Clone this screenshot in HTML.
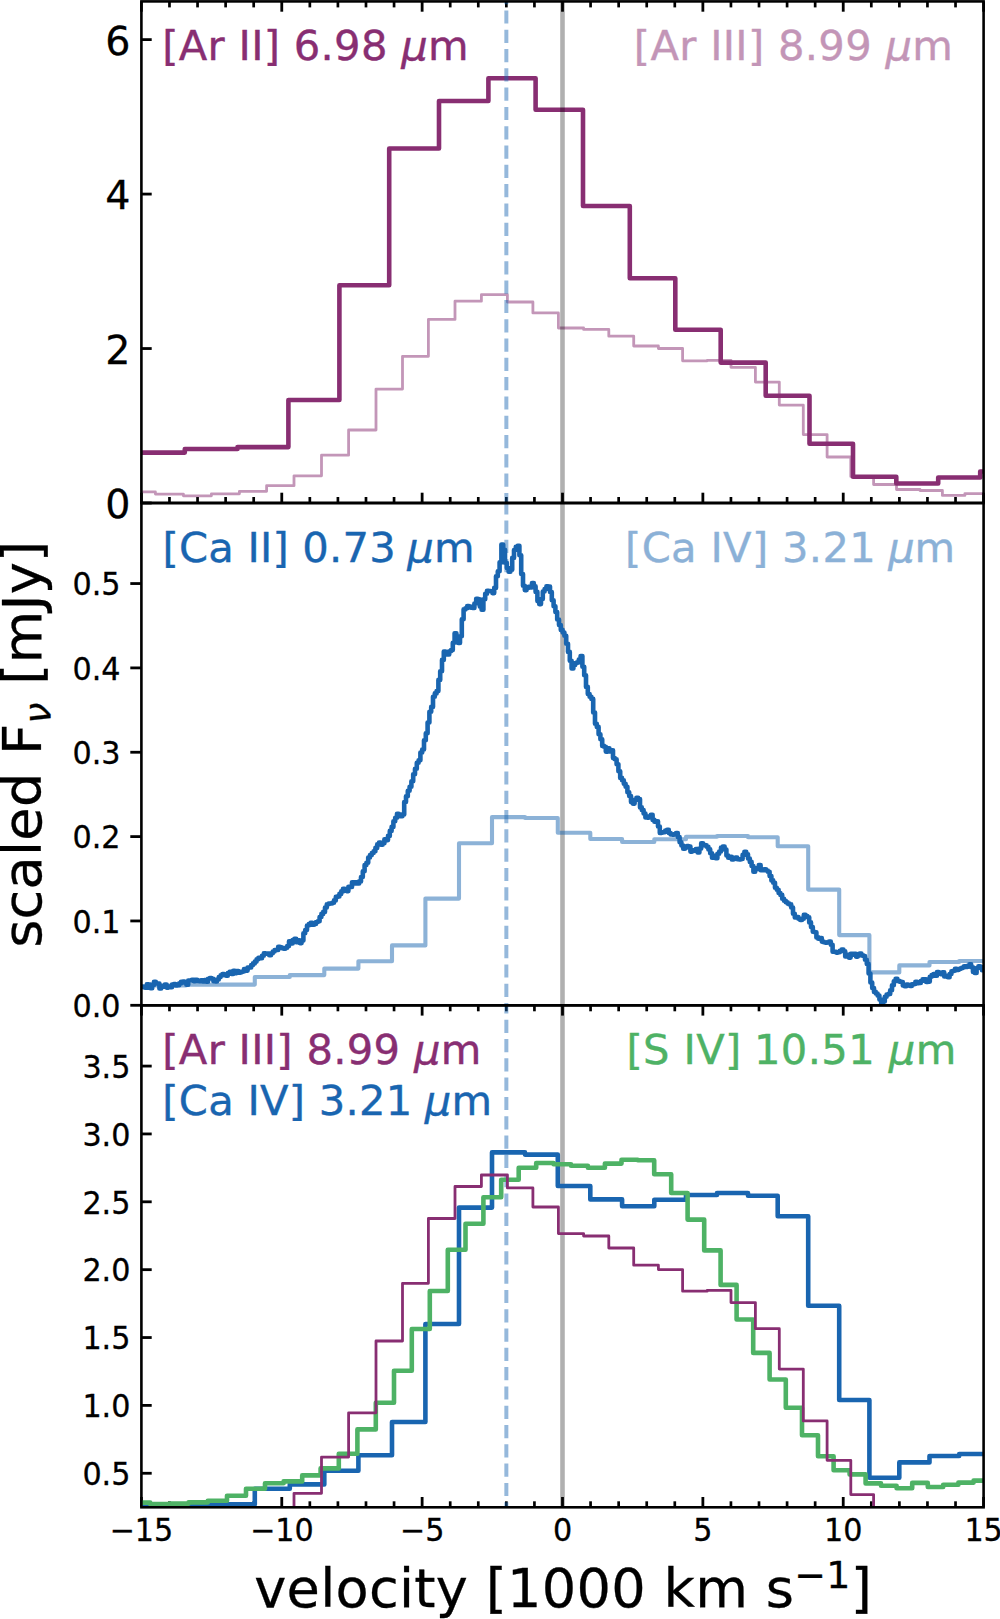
<!DOCTYPE html>
<html lang="en"><head><meta charset="utf-8"><title>Line velocity profiles</title>
<style>html,body{margin:0;padding:0;background:#fff}svg{display:block}text{font-family:"DejaVu Sans","Liberation Sans",sans-serif}</style></head><body>
<svg width="1000" height="1619" viewBox="0 0 1000 1619">
<rect width="1000" height="1619" fill="#fff"/>
<defs>
<clipPath id="c1"><rect x="141.4" y="1.4" width="842.2" height="501.6"/></clipPath>
<clipPath id="c2"><rect x="141.4" y="503.0" width="842.2" height="502.3"/></clipPath>
<clipPath id="c3"><rect x="141.4" y="1005.3" width="842.2" height="502.0"/></clipPath>
</defs>
<g stroke="#000" fill="none">
<line x1="141.40" y1="1.40" x2="141.40" y2="11.70" stroke-width="2.8"/>
<line x1="141.40" y1="503.00" x2="141.40" y2="492.70" stroke-width="2.8"/>
<line x1="141.40" y1="1005.30" x2="141.40" y2="1015.60" stroke-width="2.8"/>
<line x1="141.40" y1="1507.30" x2="141.40" y2="1497.00" stroke-width="2.8"/>
<line x1="169.47" y1="1.40" x2="169.47" y2="7.40" stroke-width="2.7"/>
<line x1="169.47" y1="503.00" x2="169.47" y2="497.00" stroke-width="2.7"/>
<line x1="169.47" y1="1005.30" x2="169.47" y2="1011.30" stroke-width="2.7"/>
<line x1="169.47" y1="1507.30" x2="169.47" y2="1501.30" stroke-width="2.7"/>
<line x1="197.55" y1="1.40" x2="197.55" y2="7.40" stroke-width="2.7"/>
<line x1="197.55" y1="503.00" x2="197.55" y2="497.00" stroke-width="2.7"/>
<line x1="197.55" y1="1005.30" x2="197.55" y2="1011.30" stroke-width="2.7"/>
<line x1="197.55" y1="1507.30" x2="197.55" y2="1501.30" stroke-width="2.7"/>
<line x1="225.62" y1="1.40" x2="225.62" y2="7.40" stroke-width="2.7"/>
<line x1="225.62" y1="503.00" x2="225.62" y2="497.00" stroke-width="2.7"/>
<line x1="225.62" y1="1005.30" x2="225.62" y2="1011.30" stroke-width="2.7"/>
<line x1="225.62" y1="1507.30" x2="225.62" y2="1501.30" stroke-width="2.7"/>
<line x1="253.69" y1="1.40" x2="253.69" y2="7.40" stroke-width="2.7"/>
<line x1="253.69" y1="503.00" x2="253.69" y2="497.00" stroke-width="2.7"/>
<line x1="253.69" y1="1005.30" x2="253.69" y2="1011.30" stroke-width="2.7"/>
<line x1="253.69" y1="1507.30" x2="253.69" y2="1501.30" stroke-width="2.7"/>
<line x1="281.77" y1="1.40" x2="281.77" y2="11.70" stroke-width="2.8"/>
<line x1="281.77" y1="503.00" x2="281.77" y2="492.70" stroke-width="2.8"/>
<line x1="281.77" y1="1005.30" x2="281.77" y2="1015.60" stroke-width="2.8"/>
<line x1="281.77" y1="1507.30" x2="281.77" y2="1497.00" stroke-width="2.8"/>
<line x1="309.84" y1="1.40" x2="309.84" y2="7.40" stroke-width="2.7"/>
<line x1="309.84" y1="503.00" x2="309.84" y2="497.00" stroke-width="2.7"/>
<line x1="309.84" y1="1005.30" x2="309.84" y2="1011.30" stroke-width="2.7"/>
<line x1="309.84" y1="1507.30" x2="309.84" y2="1501.30" stroke-width="2.7"/>
<line x1="337.91" y1="1.40" x2="337.91" y2="7.40" stroke-width="2.7"/>
<line x1="337.91" y1="503.00" x2="337.91" y2="497.00" stroke-width="2.7"/>
<line x1="337.91" y1="1005.30" x2="337.91" y2="1011.30" stroke-width="2.7"/>
<line x1="337.91" y1="1507.30" x2="337.91" y2="1501.30" stroke-width="2.7"/>
<line x1="365.99" y1="1.40" x2="365.99" y2="7.40" stroke-width="2.7"/>
<line x1="365.99" y1="503.00" x2="365.99" y2="497.00" stroke-width="2.7"/>
<line x1="365.99" y1="1005.30" x2="365.99" y2="1011.30" stroke-width="2.7"/>
<line x1="365.99" y1="1507.30" x2="365.99" y2="1501.30" stroke-width="2.7"/>
<line x1="394.06" y1="1.40" x2="394.06" y2="7.40" stroke-width="2.7"/>
<line x1="394.06" y1="503.00" x2="394.06" y2="497.00" stroke-width="2.7"/>
<line x1="394.06" y1="1005.30" x2="394.06" y2="1011.30" stroke-width="2.7"/>
<line x1="394.06" y1="1507.30" x2="394.06" y2="1501.30" stroke-width="2.7"/>
<line x1="422.13" y1="1.40" x2="422.13" y2="11.70" stroke-width="2.8"/>
<line x1="422.13" y1="503.00" x2="422.13" y2="492.70" stroke-width="2.8"/>
<line x1="422.13" y1="1005.30" x2="422.13" y2="1015.60" stroke-width="2.8"/>
<line x1="422.13" y1="1507.30" x2="422.13" y2="1497.00" stroke-width="2.8"/>
<line x1="450.21" y1="1.40" x2="450.21" y2="7.40" stroke-width="2.7"/>
<line x1="450.21" y1="503.00" x2="450.21" y2="497.00" stroke-width="2.7"/>
<line x1="450.21" y1="1005.30" x2="450.21" y2="1011.30" stroke-width="2.7"/>
<line x1="450.21" y1="1507.30" x2="450.21" y2="1501.30" stroke-width="2.7"/>
<line x1="478.28" y1="1.40" x2="478.28" y2="7.40" stroke-width="2.7"/>
<line x1="478.28" y1="503.00" x2="478.28" y2="497.00" stroke-width="2.7"/>
<line x1="478.28" y1="1005.30" x2="478.28" y2="1011.30" stroke-width="2.7"/>
<line x1="478.28" y1="1507.30" x2="478.28" y2="1501.30" stroke-width="2.7"/>
<line x1="506.35" y1="1.40" x2="506.35" y2="7.40" stroke-width="2.7"/>
<line x1="506.35" y1="503.00" x2="506.35" y2="497.00" stroke-width="2.7"/>
<line x1="506.35" y1="1005.30" x2="506.35" y2="1011.30" stroke-width="2.7"/>
<line x1="506.35" y1="1507.30" x2="506.35" y2="1501.30" stroke-width="2.7"/>
<line x1="534.43" y1="1.40" x2="534.43" y2="7.40" stroke-width="2.7"/>
<line x1="534.43" y1="503.00" x2="534.43" y2="497.00" stroke-width="2.7"/>
<line x1="534.43" y1="1005.30" x2="534.43" y2="1011.30" stroke-width="2.7"/>
<line x1="534.43" y1="1507.30" x2="534.43" y2="1501.30" stroke-width="2.7"/>
<line x1="562.50" y1="1.40" x2="562.50" y2="11.70" stroke-width="2.8"/>
<line x1="562.50" y1="503.00" x2="562.50" y2="492.70" stroke-width="2.8"/>
<line x1="562.50" y1="1005.30" x2="562.50" y2="1015.60" stroke-width="2.8"/>
<line x1="562.50" y1="1507.30" x2="562.50" y2="1497.00" stroke-width="2.8"/>
<line x1="590.57" y1="1.40" x2="590.57" y2="7.40" stroke-width="2.7"/>
<line x1="590.57" y1="503.00" x2="590.57" y2="497.00" stroke-width="2.7"/>
<line x1="590.57" y1="1005.30" x2="590.57" y2="1011.30" stroke-width="2.7"/>
<line x1="590.57" y1="1507.30" x2="590.57" y2="1501.30" stroke-width="2.7"/>
<line x1="618.65" y1="1.40" x2="618.65" y2="7.40" stroke-width="2.7"/>
<line x1="618.65" y1="503.00" x2="618.65" y2="497.00" stroke-width="2.7"/>
<line x1="618.65" y1="1005.30" x2="618.65" y2="1011.30" stroke-width="2.7"/>
<line x1="618.65" y1="1507.30" x2="618.65" y2="1501.30" stroke-width="2.7"/>
<line x1="646.72" y1="1.40" x2="646.72" y2="7.40" stroke-width="2.7"/>
<line x1="646.72" y1="503.00" x2="646.72" y2="497.00" stroke-width="2.7"/>
<line x1="646.72" y1="1005.30" x2="646.72" y2="1011.30" stroke-width="2.7"/>
<line x1="646.72" y1="1507.30" x2="646.72" y2="1501.30" stroke-width="2.7"/>
<line x1="674.79" y1="1.40" x2="674.79" y2="7.40" stroke-width="2.7"/>
<line x1="674.79" y1="503.00" x2="674.79" y2="497.00" stroke-width="2.7"/>
<line x1="674.79" y1="1005.30" x2="674.79" y2="1011.30" stroke-width="2.7"/>
<line x1="674.79" y1="1507.30" x2="674.79" y2="1501.30" stroke-width="2.7"/>
<line x1="702.87" y1="1.40" x2="702.87" y2="11.70" stroke-width="2.8"/>
<line x1="702.87" y1="503.00" x2="702.87" y2="492.70" stroke-width="2.8"/>
<line x1="702.87" y1="1005.30" x2="702.87" y2="1015.60" stroke-width="2.8"/>
<line x1="702.87" y1="1507.30" x2="702.87" y2="1497.00" stroke-width="2.8"/>
<line x1="730.94" y1="1.40" x2="730.94" y2="7.40" stroke-width="2.7"/>
<line x1="730.94" y1="503.00" x2="730.94" y2="497.00" stroke-width="2.7"/>
<line x1="730.94" y1="1005.30" x2="730.94" y2="1011.30" stroke-width="2.7"/>
<line x1="730.94" y1="1507.30" x2="730.94" y2="1501.30" stroke-width="2.7"/>
<line x1="759.01" y1="1.40" x2="759.01" y2="7.40" stroke-width="2.7"/>
<line x1="759.01" y1="503.00" x2="759.01" y2="497.00" stroke-width="2.7"/>
<line x1="759.01" y1="1005.30" x2="759.01" y2="1011.30" stroke-width="2.7"/>
<line x1="759.01" y1="1507.30" x2="759.01" y2="1501.30" stroke-width="2.7"/>
<line x1="787.09" y1="1.40" x2="787.09" y2="7.40" stroke-width="2.7"/>
<line x1="787.09" y1="503.00" x2="787.09" y2="497.00" stroke-width="2.7"/>
<line x1="787.09" y1="1005.30" x2="787.09" y2="1011.30" stroke-width="2.7"/>
<line x1="787.09" y1="1507.30" x2="787.09" y2="1501.30" stroke-width="2.7"/>
<line x1="815.16" y1="1.40" x2="815.16" y2="7.40" stroke-width="2.7"/>
<line x1="815.16" y1="503.00" x2="815.16" y2="497.00" stroke-width="2.7"/>
<line x1="815.16" y1="1005.30" x2="815.16" y2="1011.30" stroke-width="2.7"/>
<line x1="815.16" y1="1507.30" x2="815.16" y2="1501.30" stroke-width="2.7"/>
<line x1="843.23" y1="1.40" x2="843.23" y2="11.70" stroke-width="2.8"/>
<line x1="843.23" y1="503.00" x2="843.23" y2="492.70" stroke-width="2.8"/>
<line x1="843.23" y1="1005.30" x2="843.23" y2="1015.60" stroke-width="2.8"/>
<line x1="843.23" y1="1507.30" x2="843.23" y2="1497.00" stroke-width="2.8"/>
<line x1="871.31" y1="1.40" x2="871.31" y2="7.40" stroke-width="2.7"/>
<line x1="871.31" y1="503.00" x2="871.31" y2="497.00" stroke-width="2.7"/>
<line x1="871.31" y1="1005.30" x2="871.31" y2="1011.30" stroke-width="2.7"/>
<line x1="871.31" y1="1507.30" x2="871.31" y2="1501.30" stroke-width="2.7"/>
<line x1="899.38" y1="1.40" x2="899.38" y2="7.40" stroke-width="2.7"/>
<line x1="899.38" y1="503.00" x2="899.38" y2="497.00" stroke-width="2.7"/>
<line x1="899.38" y1="1005.30" x2="899.38" y2="1011.30" stroke-width="2.7"/>
<line x1="899.38" y1="1507.30" x2="899.38" y2="1501.30" stroke-width="2.7"/>
<line x1="927.45" y1="1.40" x2="927.45" y2="7.40" stroke-width="2.7"/>
<line x1="927.45" y1="503.00" x2="927.45" y2="497.00" stroke-width="2.7"/>
<line x1="927.45" y1="1005.30" x2="927.45" y2="1011.30" stroke-width="2.7"/>
<line x1="927.45" y1="1507.30" x2="927.45" y2="1501.30" stroke-width="2.7"/>
<line x1="955.53" y1="1.40" x2="955.53" y2="7.40" stroke-width="2.7"/>
<line x1="955.53" y1="503.00" x2="955.53" y2="497.00" stroke-width="2.7"/>
<line x1="955.53" y1="1005.30" x2="955.53" y2="1011.30" stroke-width="2.7"/>
<line x1="955.53" y1="1507.30" x2="955.53" y2="1501.30" stroke-width="2.7"/>
<line x1="983.60" y1="1.40" x2="983.60" y2="11.70" stroke-width="2.8"/>
<line x1="983.60" y1="503.00" x2="983.60" y2="492.70" stroke-width="2.8"/>
<line x1="983.60" y1="1005.30" x2="983.60" y2="1015.60" stroke-width="2.8"/>
<line x1="983.60" y1="1507.30" x2="983.60" y2="1497.00" stroke-width="2.8"/>
<line x1="141.40" y1="503.00" x2="151.70" y2="503.00" stroke-width="2.8"/>
<line x1="141.40" y1="348.54" x2="151.70" y2="348.54" stroke-width="2.8"/>
<line x1="141.40" y1="194.08" x2="151.70" y2="194.08" stroke-width="2.8"/>
<line x1="141.40" y1="39.62" x2="151.70" y2="39.62" stroke-width="2.8"/>
<line x1="141.40" y1="1005.30" x2="130.30" y2="1005.30" stroke-width="2.8"/>
<line x1="141.40" y1="920.95" x2="130.30" y2="920.95" stroke-width="2.8"/>
<line x1="141.40" y1="836.60" x2="130.30" y2="836.60" stroke-width="2.8"/>
<line x1="141.40" y1="752.25" x2="130.30" y2="752.25" stroke-width="2.8"/>
<line x1="141.40" y1="667.90" x2="130.30" y2="667.90" stroke-width="2.8"/>
<line x1="141.40" y1="583.55" x2="130.30" y2="583.55" stroke-width="2.8"/>
<line x1="141.40" y1="1473.27" x2="151.70" y2="1473.27" stroke-width="2.8"/>
<line x1="141.40" y1="1405.40" x2="151.70" y2="1405.40" stroke-width="2.8"/>
<line x1="141.40" y1="1337.54" x2="151.70" y2="1337.54" stroke-width="2.8"/>
<line x1="141.40" y1="1269.67" x2="151.70" y2="1269.67" stroke-width="2.8"/>
<line x1="141.40" y1="1201.81" x2="151.70" y2="1201.81" stroke-width="2.8"/>
<line x1="141.40" y1="1133.94" x2="151.70" y2="1133.94" stroke-width="2.8"/>
<line x1="141.40" y1="1066.08" x2="151.70" y2="1066.08" stroke-width="2.8"/>
</g>
<g clip-path="url(#c1)" fill="none" stroke-linejoin="round">
<path d="M141.4 452.6H184.8V449.0H237.5V447.1H288.4V400.0H339.4V285.2H389.2V148.5H439.0V101.0H488.4V78.3H535.6V109.7H583.0V206.0H629.8V278.2H675.3V329.8H720.7V362.6H765.7V395.7H809.5V443.8H853.0V476.8H896.3V483.5H938.2V477.5H980.2V471.5H983.6" stroke="#882E72" stroke-width="4.6"/>
<path d="M141.4 491.9H155.4V494.1H183.4V495.8H211.4V493.8H239.4V491.3H266.6V485.7H294.0V475.8H321.5V455.2H348.6V430.0H376.0V389.1H402.5V356.3H428.4V319.4H455.0V301.2H481.4V294.7H507.4V302.0H532.9V312.9H558.4V328.0H583.6V329.4H608.8V336.2H633.7V346.0H658.4V348.5H682.6V360.8H707.2V360.3H731.0V367.3H755.4V382.1H779.3V405.1H803.3V434.6H827.1V457.0H850.8V476.5H873.6V484.5H896.5V489.5H920.0V490.5H942.4V495.4H964.9V493.6H983.6" stroke="#882E72" stroke-opacity="0.5" stroke-width="2.8"/>
<line x1="506.35" y1="-8.90" x2="506.35" y2="505.00" stroke="#1965B0" stroke-opacity="0.46" stroke-width="4.0" stroke-dasharray="13.2 6.1"/>
<line x1="562.50" y1="503.00" x2="562.50" y2="1.40" stroke="#000" stroke-opacity="0.31" stroke-width="4.6"/>
</g>
<g clip-path="url(#c2)" fill="none" stroke-linejoin="round">
<line x1="506.35" y1="501.20" x2="506.35" y2="1007.30" stroke="#1965B0" stroke-opacity="0.46" stroke-width="4.0" stroke-dasharray="13.2 6.1"/>
<line x1="562.50" y1="1005.30" x2="562.50" y2="503.00" stroke="#000" stroke-opacity="0.31" stroke-width="4.6"/>
<path d="M141.4 986.0H151.6V985.5H186.0V984.8H220.4V984.6H254.8V977.0H289.8V975.1H324.3V968.6H358.4V961.2H392.0V945.4H425.4V898.6H459.0V843.2H492.0V817.1H525.0V818.0H557.8V832.8H590.3V839.0H622.1V842.0H654.3V839.3H686.0V836.7H717.0V836.0H748.0V837.2H777.7V846.2H808.2V889.6H839.2V935.1H869.4V972.4H899.3V965.4H929.5V962.0H959.2V961.0H983.6" stroke="#1965B0" stroke-opacity="0.5" stroke-width="4.1"/>
<path d="M141.4 986.8H143.2V987.1H145.0V987.7H146.8V984.4H148.6V984.6H150.4V988.3H152.2V985.0H154.0V981.8H155.8V983.4H157.6V983.5H159.4V988.5H161.2V986.1H163.0V986.6H164.8V984.5H166.6V987.6H168.4V986.6H170.2V987.3H172.0V984.5H173.8V984.1H175.6V985.5H177.4V985.3H179.2V983.4H181.0V981.7H182.8V981.5H184.6V982.8H186.4V984.8H188.2V980.6H190.0V980.5H191.8V979.8H193.6V981.1H195.4V979.9H197.2V980.9H199.0V981.3H200.8V980.3H202.6V981.5H204.4V980.1H206.2V981.7H208.0V978.7H209.8V978.0H211.6V978.7H213.4V981.3H215.2V981.5H217.0V979.5H218.8V977.1H220.6V975.4H222.4V974.1H224.2V975.0H226.0V975.8H227.8V973.1H229.6V971.9H231.4V974.0H233.2V970.9H235.0V973.1H236.8V971.0H238.6V972.7H240.4V972.1H242.2V971.5H244.0V969.1H245.8V970.6H247.6V967.5H249.4V967.4H251.2V965.1H253.0V963.4H254.8V961.6H256.6V959.3H258.4V957.8H260.2V958.3H262.0V955.8H263.8V953.4H265.6V953.6H267.4V953.6H269.2V955.2H271.0V953.2H272.8V951.5H274.6V950.0H276.4V950.0H278.2V946.7H280.0V947.3H281.8V948.3H283.6V948.7H285.4V947.7H287.2V946.1H289.0V941.4H290.8V943.5H292.6V940.1H294.4V938.7H296.2V942.3H298.0V940.2H299.8V943.1H301.6V940.5H303.4V933.3H305.2V930.0H307.0V925.5H308.8V924.1H310.6V922.7H312.4V924.7H314.2V924.0H316.0V922.1H317.8V921.2H319.6V917.0H321.4V913.9H323.2V911.9H325.0V907.6H326.8V904.2H328.6V903.6H330.4V903.5H332.2V902.7H334.0V900.4H335.8V896.9H337.6V896.4H339.4V893.9H341.2V891.4H343.0V888.8H344.8V889.4H346.6V891.1H348.4V886.8H350.2V886.9H352.0V882.3H353.8V883.5H355.6V882.4H357.4V883.5H359.2V881.4H361.0V877.0H362.8V871.2H364.6V865.1H366.4V862.7H368.2V857.5H370.0V855.1H371.8V853.0H373.6V851.3H375.4V847.9H377.2V844.4H379.0V842.6H380.8V844.7H382.6V843.2H384.4V839.2H386.2V840.1H388.0V835.9H389.8V830.9H391.6V826.9H393.4V821.3H395.2V817.7H397.0V813.7H398.8V814.9H400.6V816.2H402.4V814.4H404.2V802.0H406.0V796.3H407.8V790.8H409.6V786.8H411.4V781.2H413.2V774.3H415.0V768.7H416.8V762.8H418.6V760.2H420.4V752.5H422.2V749.5H424.0V740.2H425.8V733.2H427.6V722.5H429.4V711.8H431.2V706.9H433.0V696.8H434.8V693.4H436.6V691.1H438.4V679.9H440.2V671.2H442.0V659.9H443.8V651.6H445.6V653.4H447.4V654.4H449.2V651.3H451.0V650.1H452.8V642.8H454.6V633.3H456.4V637.4H458.2V643.0H460.0V636.2H461.8V619.3H463.6V609.4H465.4V608.3H467.2V606.0H469.0V606.5H470.8V607.8H472.6V607.9H474.4V603.5H476.2V598.7H478.0V599.4H479.8V606.6H481.6V609.8H483.4V599.2H485.2V593.7H487.0V590.7H488.8V591.0H490.6V591.3H492.4V593.1H494.2V587.9H496.0V576.2H497.8V571.2H499.6V562.3H501.4V544.6H503.2V549.7H505.0V562.8H506.8V568.0H508.6V571.8H510.4V569.7H512.2V557.9H514.0V550.1H515.8V546.8H517.6V545.8H519.4V555.2H521.2V574.1H523.0V585.7H524.8V590.1H526.6V588.0H528.4V586.8H530.2V587.4H532.0V583.0H533.8V586.4H535.6V591.9H537.4V601.1H539.2V604.1H541.0V599.1H542.8V591.5H544.6V589.0H546.4V586.4H548.2V586.6H550.0V592.0H551.8V600.3H553.6V606.3H555.4V612.1H557.2V619.5H559.0V625.1H560.8V629.9H562.6V632.5H564.4V635.7H566.2V643.8H568.0V651.9H569.8V660.7H571.6V668.5H573.4V665.0H575.2V663.1H577.0V662.4H578.8V659.6H580.6V656.0H582.4V666.8H584.2V675.3H586.0V686.9H587.8V694.0H589.6V696.7H591.4V698.9H593.2V712.5H595.0V723.7H596.8V726.9H598.6V734.3H600.4V739.2H602.2V745.9H604.0V746.7H605.8V751.6H607.6V748.2H609.4V751.4H611.2V750.3H613.0V758.1H614.8V759.3H616.6V764.2H618.4V771.2H620.2V777.9H622.0V780.2H623.8V783.7H625.6V786.8H627.4V792.2H629.2V796.1H631.0V802.1H632.8V803.6H634.6V799.8H636.4V797.9H638.2V799.1H640.0V807.4H641.8V810.1H643.6V813.5H645.4V817.5H647.2V817.6H649.0V816.2H650.8V814.7H652.6V819.9H654.4V821.8H656.2V821.2H658.0V826.5H659.8V832.9H661.6V832.5H663.4V832.1H665.2V830.5H667.0V829.9H668.8V833.0H670.6V834.5H672.4V834.8H674.2V834.0H676.0V833.1H677.8V837.1H679.6V842.3H681.4V845.5H683.2V848.8H685.0V847.6H686.8V846.0H688.6V846.6H690.4V851.6H692.2V851.0H694.0V850.0H695.8V849.1H697.6V852.5H699.4V848.6H701.2V843.2H703.0V844.8H704.8V845.4H706.6V846.7H708.4V849.4H710.2V853.3H712.0V857.8H713.8V855.7H715.6V858.3H717.4V853.8H719.2V851.5H721.0V847.6H722.8V846.6H724.6V849.6H726.4V855.5H728.2V857.8H730.0V856.8H731.8V859.4H733.6V858.3H735.4V857.5H737.2V859.2H739.0V859.4H740.8V859.0H742.6V854.9H744.4V851.7H746.2V854.3H748.0V858.6H749.8V861.9H751.6V866.0H753.4V871.7H755.2V869.2H757.0V868.1H758.8V865.0H760.6V870.3H762.4V870.3H764.2V869.2H766.0V870.5H767.8V871.8H769.6V876.1H771.4V880.4H773.2V882.7H775.0V887.8H776.8V889.8H778.6V893.0H780.4V894.9H782.2V898.8H784.0V900.7H785.8V902.2H787.6V903.6H789.4V904.4H791.2V907.5H793.0V913.7H794.8V917.4H796.6V917.0H798.4V918.7H800.2V920.0H802.0V918.7H803.8V914.9H805.6V916.1H807.4V917.2H809.2V922.4H811.0V927.1H812.8V931.8H814.6V932.2H816.4V937.4H818.2V938.8H820.0V938.0H821.8V941.6H823.6V942.3H825.4V942.8H827.2V942.2H829.0V941.5H830.8V944.8H832.6V951.7H834.4V951.8H836.2V952.6H838.0V952.3H839.8V950.7H841.6V949.6H843.4V951.3H845.2V956.5H847.0V954.7H848.8V957.6H850.6V953.7H852.4V954.6H854.2V953.9H856.0V956.6H857.8V955.5H859.6V953.5H861.4V955.4H863.2V956.0H865.0V959.8H866.8V963.9H868.6V973.5H870.4V982.5H872.2V988.1H874.0V991.9H875.8V993.5H877.6V995.6H879.4V999.6H881.2V1004.4H883.0V1001.4H884.8V996.8H886.6V994.6H888.4V993.9H890.2V990.2H892.0V985.2H893.8V981.2H895.6V978.9H897.4V980.9H899.2V981.6H901.0V982.0H902.8V985.4H904.6V986.3H906.4V984.6H908.2V985.2H910.0V986.0H911.8V984.4H913.6V984.0H915.4V981.8H917.2V983.3H919.0V983.0H920.8V981.0H922.6V979.3H924.4V979.3H926.2V981.9H928.0V981.6H929.8V976.7H931.6V975.1H933.4V974.1H935.2V975.7H937.0V972.0H938.8V972.7H940.6V974.1H942.4V972.3H944.2V976.5H946.0V975.8H947.8V977.2H949.6V974.0H951.4V971.3H953.2V970.7H955.0V968.7H956.8V970.0H958.6V969.0H960.4V968.3H962.2V967.5H964.0V966.2H965.8V967.0H967.6V965.8H969.4V964.4H971.2V967.3H973.0V971.9H974.8V972.9H976.6V968.0H978.4V966.2H980.2V967.0H982.0V970.3H983.6" stroke="#1965B0" stroke-width="4.6"/>
</g>
<g clip-path="url(#c3)" fill="none" stroke-linejoin="round">
<line x1="506.35" y1="1000.40" x2="506.35" y2="1509.30" stroke="#1965B0" stroke-opacity="0.46" stroke-width="4.0" stroke-dasharray="13.2 6.1"/>
<line x1="562.50" y1="1507.30" x2="562.50" y2="1005.30" stroke="#000" stroke-opacity="0.31" stroke-width="4.6"/>
<path d="M141.4 1504.0H151.6V1504.6H186.0V1504.4H220.4V1504.4H254.8V1488.8H289.8V1484.4H324.3V1470.8H358.4V1455.2H392.0V1422.0H425.4V1324.0H459.0V1207.6H492.0V1152.4H525.0V1154.6H557.8V1186.0H590.3V1199.4H622.1V1206.2H654.3V1199.7H686.0V1195.0H717.0V1193.0H748.0V1195.8H777.7V1216.2H808.2V1305.8H839.2V1400.0H869.4V1477.8H899.3V1462.4H929.5V1456.0H959.2V1454.0H983.6" stroke="#1965B0" stroke-width="4.6"/>
<path d="M141.4 1502.6H150.2V1504.0H169.4V1503.6H188.6V1502.4H207.8V1500.8H227.0V1495.8H246.0V1488.7H265.0V1483.2H283.6V1481.4H302.2V1475.4H320.6V1468.4H338.8V1453.8H357.4V1429.4H375.8V1402.8H394.0V1370.8H411.8V1329.0H429.8V1291.0H447.8V1249.8H465.5V1223.8H483.4V1197.2H501.2V1179.8H518.7V1167.8H536.2V1163.0H553.6V1164.2H571.0V1165.8H587.9V1167.8H604.9V1163.6H621.5V1159.7H637.8V1160.2H654.2V1174.2H671.2V1193.0H687.6V1219.6H704.2V1250.4H720.6V1284.9H736.6V1319.5H753.2V1352.9H769.6V1379.5H785.8V1407.8H802.0V1435.3H818.0V1456.3H833.6V1470.3H849.6V1474.4H865.6V1483.4H881.0V1485.7H896.6V1488.2H912.2V1482.9H927.8V1487.0H943.2V1484.8H958.4V1482.6H973.6V1480.6H983.6" stroke="#4EB265" stroke-width="4.6"/>
<path d="M141.4 1521.6H155.4V1525.5H183.4V1528.5H211.4V1525.0H239.4V1520.6H266.6V1510.7H294.0V1493.3H321.5V1457.1H348.6V1412.8H376.0V1341.0H402.5V1283.3H428.4V1218.5H455.0V1186.5H481.4V1175.0H507.4V1187.9H532.9V1207.0H558.4V1233.6H583.6V1236.0H608.8V1248.0H633.7V1265.2H658.4V1269.6H682.6V1291.2H707.2V1290.3H731.0V1302.6H755.4V1328.7H779.3V1369.1H803.3V1420.9H827.1V1460.3H850.8V1494.6H873.6V1508.6H896.5V1517.4H920.0V1519.2H942.4V1527.8H964.9V1524.6H983.6" stroke="#882E72" stroke-width="2.8"/>
</g>
<text x="162.3" y="60.1" font-size="41.67" letter-spacing="0.29" fill="#882E72" stroke="#882E72" stroke-width="0.4" text-anchor="start">[Ar II] 6.98 <tspan font-style="italic">μ</tspan>m</text>
<text x="953.2" y="60.1" font-size="41.67" letter-spacing="0.30" fill="#882E72" stroke="#882E72" stroke-width="0.4" opacity="0.5" text-anchor="end">[Ar III] 8.99 <tspan font-style="italic">μ</tspan>m</text>
<text x="162.5" y="562.3" font-size="41.67" letter-spacing="0.21" fill="#1965B0" stroke="#1965B0" stroke-width="0.4" text-anchor="start">[Ca II] 0.73 <tspan font-style="italic" dx="-2.2">μ</tspan>m</text>
<text x="955.4" y="562.3" font-size="41.67" letter-spacing="0.32" fill="#1965B0" stroke="#1965B0" stroke-width="0.4" opacity="0.5" text-anchor="end">[Ca IV] 3.21 <tspan font-style="italic" dx="-1.4">μ</tspan><tspan dx="-0.6">m</tspan></text>
<text x="162.3" y="1064.2" font-size="41.67" letter-spacing="0.30" fill="#882E72" stroke="#882E72" stroke-width="0.4" text-anchor="start">[Ar III] 8.99 <tspan font-style="italic">μ</tspan>m</text>
<text x="162.3" y="1114.6" font-size="41.67" letter-spacing="0.25" fill="#1965B0" stroke="#1965B0" stroke-width="0.4" text-anchor="start">[Ca IV] 3.21 <tspan font-style="italic" dx="-1.2">μ</tspan>m</text>
<text x="956.6" y="1064.3" font-size="41.67" letter-spacing="0.38" fill="#4EB265" stroke="#4EB265" stroke-width="0.4" text-anchor="end">[S IV] <tspan dx="-1.4">10.51</tspan> <tspan font-style="italic">μ</tspan>m</text>
<g stroke="#000" fill="none">
<g stroke-width="2.6" stroke-linecap="square">
<rect x="141.40" y="1.40" width="842.20" height="501.60"/>
<rect x="141.40" y="503.00" width="842.20" height="502.30"/>
<rect x="141.40" y="1005.30" width="842.20" height="502.00"/>
</g></g>
<g fill="#000" stroke="#000" stroke-width="0.3">
<text x="130.5" y="518.2" font-size="39.60" text-anchor="end">0</text>
<text x="130.5" y="363.8" font-size="39.60" text-anchor="end">2</text>
<text x="130.5" y="209.3" font-size="39.60" text-anchor="end">4</text>
<text x="130.5" y="54.9" font-size="39.60" text-anchor="end">6</text>
<text transform="translate(120.5 1017.0) scale(1 1.03)" font-size="30.20" text-anchor="end">0.0</text>
<text transform="translate(120.5 932.6) scale(1 1.03)" font-size="30.20" text-anchor="end">0.1</text>
<text transform="translate(120.5 848.3) scale(1 1.03)" font-size="30.20" text-anchor="end">0.2</text>
<text transform="translate(120.5 764.0) scale(1 1.03)" font-size="30.20" text-anchor="end">0.3</text>
<text transform="translate(120.5 679.6) scale(1 1.03)" font-size="30.20" text-anchor="end">0.4</text>
<text transform="translate(120.5 595.2) scale(1 1.03)" font-size="30.20" text-anchor="end">0.5</text>
<text transform="translate(130.4 1485.0) scale(1 1.03)" font-size="30.20" text-anchor="end">0.5</text>
<text transform="translate(130.4 1417.1) scale(1 1.03)" font-size="30.20" text-anchor="end">1.0</text>
<text transform="translate(130.4 1349.2) scale(1 1.03)" font-size="30.20" text-anchor="end">1.5</text>
<text transform="translate(130.4 1281.4) scale(1 1.03)" font-size="30.20" text-anchor="end">2.0</text>
<text transform="translate(130.4 1213.5) scale(1 1.03)" font-size="30.20" text-anchor="end">2.5</text>
<text transform="translate(130.4 1145.6) scale(1 1.03)" font-size="30.20" text-anchor="end">3.0</text>
<text transform="translate(130.4 1077.8) scale(1 1.03)" font-size="30.20" text-anchor="end">3.5</text>
<text transform="translate(141.4 1541.3) scale(1 1.03)" font-size="30.20" text-anchor="middle">−15</text>
<text transform="translate(281.8 1541.3) scale(1 1.03)" font-size="30.20" text-anchor="middle">−10</text>
<text transform="translate(422.1 1541.3) scale(1 1.03)" font-size="30.20" text-anchor="middle">−5</text>
<text transform="translate(562.5 1541.3) scale(1 1.03)" font-size="30.20" text-anchor="middle">0</text>
<text transform="translate(702.9 1541.3) scale(1 1.03)" font-size="30.20" text-anchor="middle">5</text>
<text transform="translate(843.2 1541.3) scale(1 1.03)" font-size="30.20" text-anchor="middle">10</text>
<text transform="translate(983.6 1541.3) scale(1 1.03)" font-size="30.20" text-anchor="middle">15</text>
<text x="563.2" y="1607.2" font-size="54.17" letter-spacing="0.29" text-anchor="middle">velocity [1000 km s<tspan font-size="37.9" dy="-19.6">−1</tspan><tspan dy="19.6">]</tspan></text>
<text transform="translate(40.8 744.2) rotate(-90)" font-size="54.17" letter-spacing="0.24" text-anchor="middle">scaled F<tspan font-size="37.9" dy="9.9" font-style="italic">ν</tspan><tspan dy="-9.9"> [mJy]</tspan></text>
</g>
</svg></body></html>
